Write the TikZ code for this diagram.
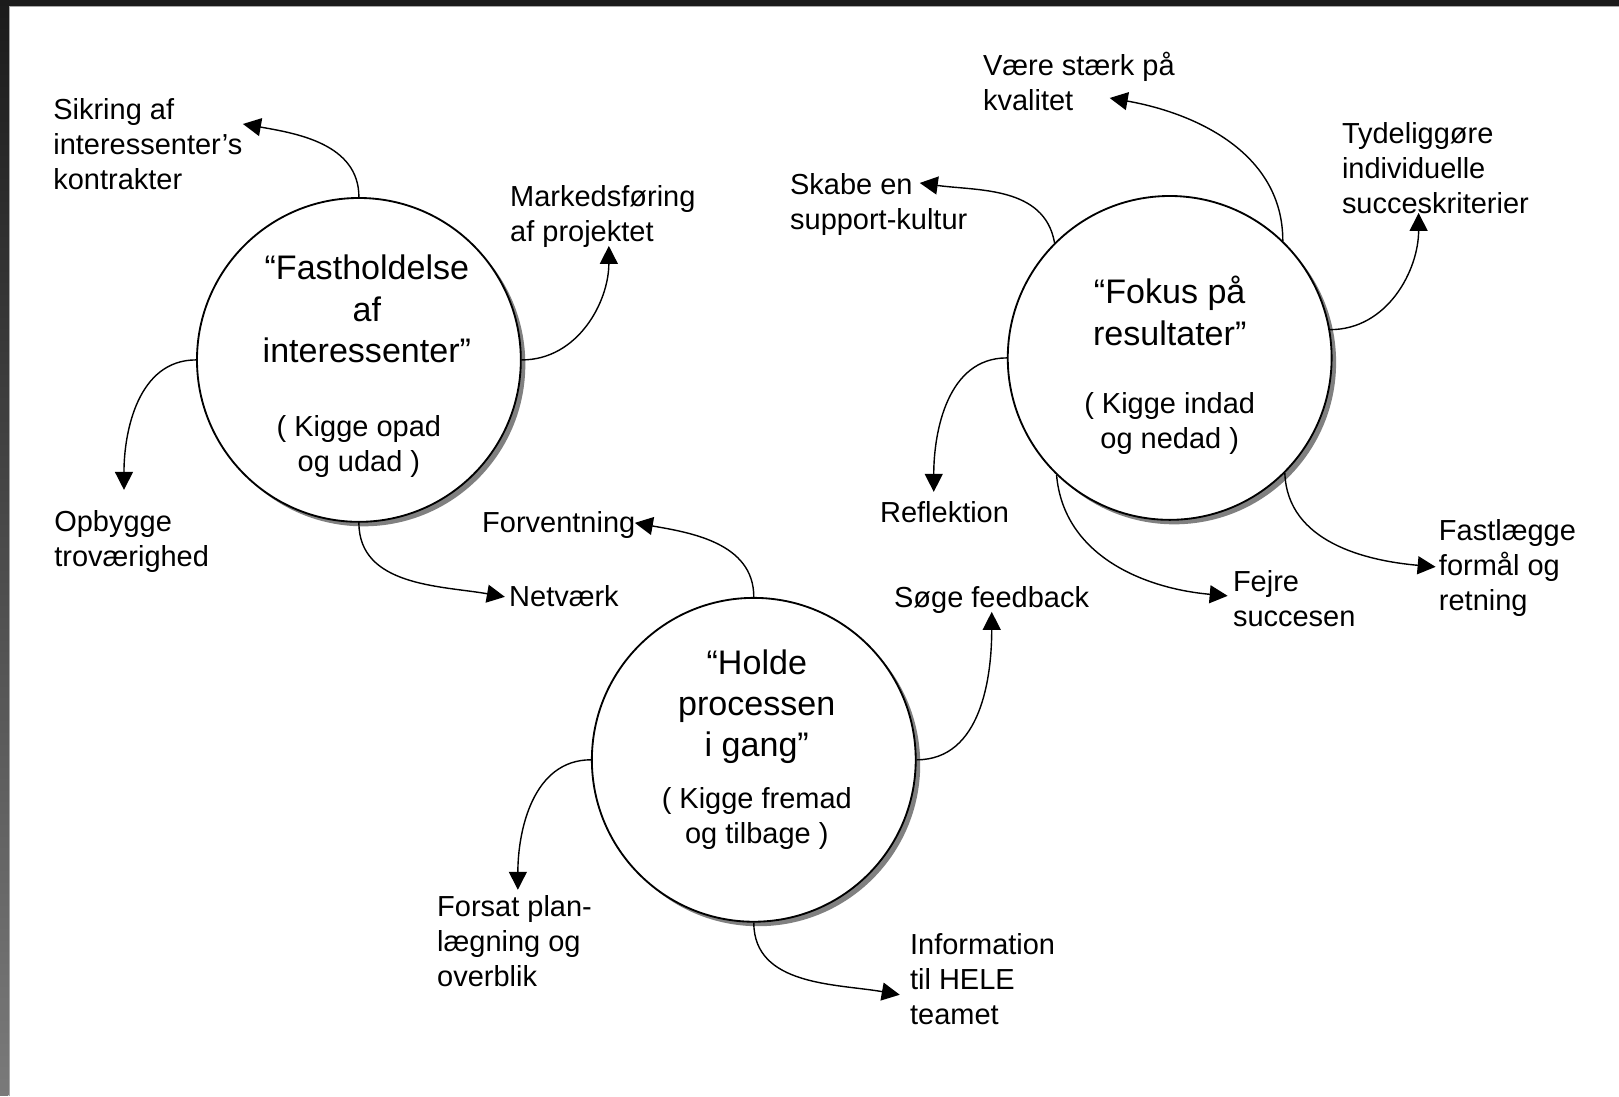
\documentclass[tikz,border=0pt]{standalone}
\usepackage{fontspec}
\setmainfont{Liberation Sans}
\usetikzlibrary{arrows.meta,shadows}
\definecolor{framedark}{HTML}{1B1B1B}
\definecolor{framelow}{HTML}{7A7A7A}
\definecolor{frameline}{HTML}{A8A8A8}
\definecolor{shadowgrey}{HTML}{808080}

\begin{document}
\begin{tikzpicture}[x=.02cm,y=.02cm,
    bubble/.style={circle,draw,line width=1.05pt,fill=white,minimum size=6.48cm,inner sep=0pt,
      drop shadow={shadow xshift=.09cm,shadow yshift=-.09cm,fill=shadowgrey,opacity=1}},
    ttl/.style={align=center,inner sep=0pt,font=\fontsize{19.4}{23.5}\selectfont},
    sub/.style={align=center,inner sep=0pt,font=\fontsize{16.5}{19.9}\selectfont},
    lab/.style={anchor=north west,align=left,inner sep=0pt,font=\fontsize{16.5}{19.9}\selectfont},
    link/.style={line width=.8pt,-{Triangle[length=.36cm,width=.36cm]}}]
  % page frame
  \fill[white] (0,0) rectangle (1619,-1096);
  \shade[top color=framedark,bottom color=framelow] (0,0) rectangle (8.5,-1096);
  \fill[framedark] (0,0) rectangle (1619,-6);
  \draw[frameline,line width=.5pt] (9,-1096) -- (9,-6.5) -- (1619,-6.5);

  % the three circles
  \node[bubble] (c1) at (359,-360) {};
  \node[bubble] (c2) at (1170,-358) {};
  \node[bubble] (c3) at (754,-760) {};
  \node[ttl] (c1t) at (367,-309) {“Fastholdelse\\af\\interessenter”};
  \node[sub] (c1s) at (359,-447) {( Kigge opad\\og udad )};
  \node[ttl] (c2t) at (1170,-311) {“Fokus på\\resultater”};
  \node[sub] (c2s) at (1170,-424) {( Kigge indad\\og nedad )};
  \node[ttl] (c3t) at (757,-707) {“Holde\\processen\\i gang”};
  \node[sub] (c3s) at (757,-819) {( Kigge fremad\\og tilbage )};

  % labels
  \node[lab] (sikring) at (53,-98) {Sikring af\\interessenter’s\\kontrakter};
  \node[lab] (marked) at (510,-185) {Markedsføring\\af projektet};
  \node[lab] (opbyg) at (54,-510) {Opbygge\\troværighed};
  \node[lab] (netv) at (509,-585) {Netværk};
  \node[lab] (forv) at (482,-511) {Forventning};
  \node[lab] (soege) at (894,-586) {Søge feedback};
  \node[lab] (forsat) at (437,-895) {Forsat plan-\\lægning og\\overblik};
  \node[lab] (info) at (910,-933) {Information\\til HELE\\teamet};
  \node[lab] (vaere) at (983,-52) {Være stærk på\\kvalitet};
  \node[lab] (tydel) at (1342,-122) {Tydeliggøre\\individuelle\\succeskriterier};
  \node[lab] (skabe) at (790,-173) {Skabe en\\support-kultur};
  \node[lab] (refl) at (880,-501) {Reflektion};
  \node[lab] (fejre) at (1233,-570) {Fejre\\succesen};
  \node[lab] (fastl) at (1439,-519) {Fastlægge\\formål og\\retning};

  % arrow tips
  \coordinate (t-sikring) at (243,-124);
  \coordinate (t-marked) at (609,-246);
  \coordinate (t-opbyg) at (124,-490);
  \coordinate (t-netv) at (505,-597);
  \coordinate (t-forv) at (635,-523);
  \coordinate (t-soege) at (992,-612);
  \coordinate (t-forsat) at (518,-890);
  \coordinate (t-info) at (900,-995);
  \coordinate (t-vaere) at (1110,-98);
  \coordinate (t-tydel) at (1419,-213);
  \coordinate (t-skabe) at (920,-183);
  \coordinate (t-refl) at (934,-492);
  \coordinate (t-fejre) at (1228,-596);
  \coordinate (t-fastl) at (1436,-567);

  % connectors
  \draw[link] (c1.north) to[out=90,in=-10] (t-sikring);
  \draw[link] (c1.east) to[out=0,in=-90] (t-marked);
  \draw[link] (c1.west) to[out=180,in=90] (t-opbyg);
  \draw[link] (c1.south) to[out=-90,in=170] (t-netv);
  \draw[link] (c3.north) to[out=90,in=-10] (t-forv);
  \draw[link] (c3.east) to[out=0,in=-90] (t-soege);
  \draw[link] (c3.west) to[out=180,in=90] (t-forsat);
  \draw[link] (c3.south) to[out=-90,in=170] (t-info);
  \draw[link] (c2.46) to[out=90,in=-10] (t-vaere);
  \draw[link] (c2.10) to[out=0,in=-90] (t-tydel);
  \draw[link] (c2.135) to[out=100,in=-8] (t-skabe);
  \draw[link] (c2.west) to[out=180,in=90] (t-refl);
  \draw[link] (c2.226) to[out=-85,in=175] (t-fejre);
  \draw[link] (c2.-45) to[out=-88,in=175] (t-fastl);
\end{tikzpicture}
\end{document}
